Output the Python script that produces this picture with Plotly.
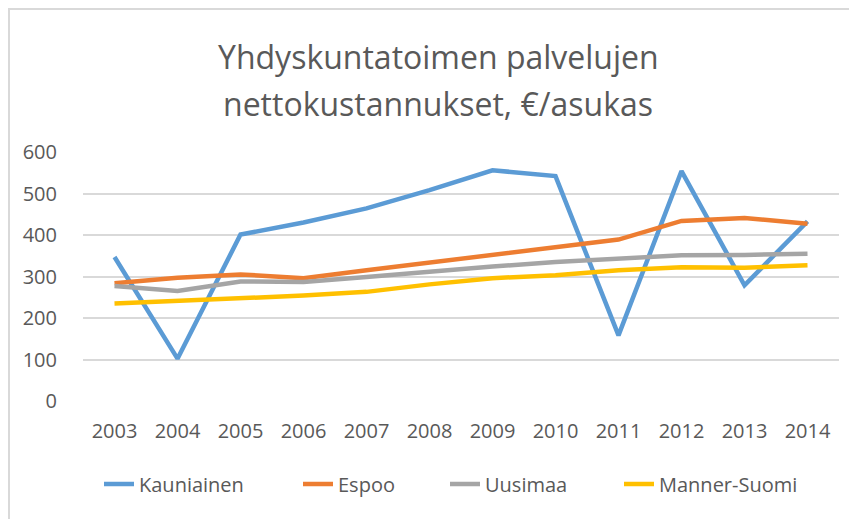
import plotly.graph_objects as go

years = ["2003", "2004", "2005", "2006", "2007", "2008", "2009", "2010", "2011", "2012", "2013", "2014"]
kauniainen = [347, 102, 401, 430, 464, 508, 556, 542, 158, 554, 279, 433]
espoo = [284, 297, 305, 296, 315, 334, 351, 371, 389, 434, 441, 427]
uusimaa = [277, 265, 288, 287, 299, 312, 324, 335, 343, 351, 352, 355]
manner_suomi = [235, 241, 249, 254, 263, 281, 296, 303, 315, 322, 321, 327]

title_lines = ["Yhdyskuntatoimen palvelujen", "nettokustannukset, €/asukas"]

series = [
    ("Kauniainen", kauniainen, "#5B9BD5", 154),
    ("Espoo", espoo, "#ED7D31", 102),
    ("Uusimaa", uusimaa, "#A5A5A5", 129),
    ("Manner-Suomi", manner_suomi, "#FFC000", 150),
]

FONT = "Open Sans, Noto Sans, Liberation Sans, sans-serif"
TXT = "#595959"

fig = go.Figure()
for name, vals, col, lw in series:
    fig.add_trace(go.Scatter(x=years, y=vals, name=name, mode="lines", legendwidth=lw,
                             line=dict(color=col, width=4.5)))

OFF = 8  # page body margin
FW, FH = 857, 519
# plot area in page pixels: x 83..839, y 152..401
L, R, T, B = 83 - OFF, 839 - OFF, 152 - OFF, 401 - OFF
W, H = R - L, B - T

def px(xp):
    return (xp - OFF - L) / W

def py(yp):
    return (B - (yp - OFF)) / H

fig.update_layout(
    width=FW, height=FH,
    paper_bgcolor="white", plot_bgcolor="white",
    margin=dict(l=L, r=FW - R, t=T, b=FH - B, autoexpand=False),
    font=dict(family=FONT, color=TXT, size=20),
    xaxis=dict(type="category", range=[-0.5, 11.5], showgrid=False, showline=False,
               ticks="", ticklabelstandoff=16, tickfont=dict(size=20, color=TXT)),
    yaxis=dict(range=[0, 600], dtick=100, showgrid=True, gridcolor="#D9D9D9", gridwidth=1.5,
               zeroline=False, showline=False, ticks="", ticklabelstandoff=25,
               tickfont=dict(size=20, color=TXT)),
    legend=dict(orientation="h", x=px(99), xanchor="left", y=py(484), yanchor="middle",
                font=dict(size=20, color=TXT), traceorder="normal"),
    showlegend=True,
)

for line, ycen in zip(title_lines, [56, 103]):
    fig.add_annotation(text=line, xref="paper", yref="paper", x=px(438), y=py(ycen),
                       xanchor="center", yanchor="middle", showarrow=False,
                       font=dict(size=32, color=TXT, family=FONT))

fig.add_shape(type="rect", xref="paper", yref="paper", x0=px(9), x1=px(880),
              y0=py(540), y1=py(9), line=dict(color="#D9D9D9", width=2))

fig.write_html("out.html")
